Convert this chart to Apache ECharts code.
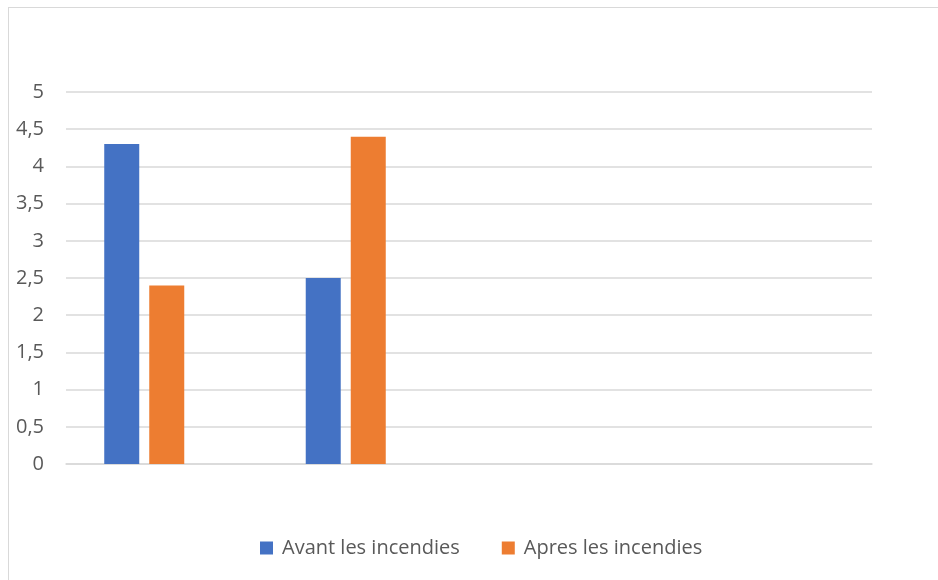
<!DOCTYPE html>
<html>
<head>
<meta charset="utf-8">
<script src="https://cdn.jsdelivr.net/npm/echarts@6/dist/echarts.min.js"></script>
<style>
  html, body { margin: 0; padding: 0; background: #fff; overflow: hidden; }
  #frame { position: absolute; left: 8px; top: 7px; width: 960px; height: 600px; border: 1.5px solid #d9d9d9; box-sizing: border-box; }
  #chart { position: absolute; left: 0; top: 0; width: 938px; height: 580px; }
</style>
</head>
<body>
<div id="frame"></div>
<div id="chart"></div>
<script>
// Four category slots, only the first two carry values
const categories = ['', '', '', ''];
const seriesNames = ['Avant les incendies', 'Apres les incendies'];
const avantValues = [4.3, 2.5, null, null];
const apresValues = [2.4, 4.4, null, null];
// third, empty series slot that keeps the two bars off-centre in each group
const emptyValues = [null, null, null, null];
const yTicks = { min: 0, max: 5, interval: 0.5 };

const colors = ['#4472c4', '#ed7d31', '#a5a5a5'];
const labelFont = '"Open Sans", "Liberation Sans", Arial, sans-serif';

const chart = echarts.init(document.getElementById('chart'), null, { renderer: 'canvas' });

const barStyle = { barWidth: 35, barGap: '28.6%' };

chart.setOption({
  animation: false,
  grid: { left: 66, right: 66, top: 92, bottom: 116, containLabel: false },
  legend: {
    data: seriesNames,
    left: 260,
    top: 538,
    padding: 0,
    icon: 'rect',
    itemWidth: 13,
    itemHeight: 13,
    itemGap: 42,
    textStyle: { fontFamily: labelFont, fontSize: 20, color: '#595959', padding: [0, 0, 0, 4] }
  },
  xAxis: {
    type: 'category',
    data: categories,
    boundaryGap: true,
    axisLine: { show: true, lineStyle: { color: '#d9d9d9', width: 1.5 } },
    axisTick: { show: false },
    axisLabel: { show: false }
  },
  yAxis: {
    type: 'value',
    min: yTicks.min,
    max: yTicks.max,
    interval: yTicks.interval,
    axisLine: { show: false },
    axisTick: { show: false },
    splitLine: { lineStyle: { color: '#d9d9d9', width: 1.5 } },
    axisLabel: {
      margin: 22,
      fontFamily: labelFont,
      fontSize: 20,
      color: '#595959',
      formatter: v => String(v).replace('.', ',')
    }
  },
  series: [
    Object.assign({ name: seriesNames[0], type: 'bar', data: avantValues, itemStyle: { color: colors[0] } }, barStyle),
    Object.assign({ name: seriesNames[1], type: 'bar', data: apresValues, itemStyle: { color: colors[1] } }, barStyle),
    Object.assign({ name: 'empty', type: 'bar', data: emptyValues, itemStyle: { color: colors[2] } }, barStyle)
  ]
});
</script>
</body>
</html>
